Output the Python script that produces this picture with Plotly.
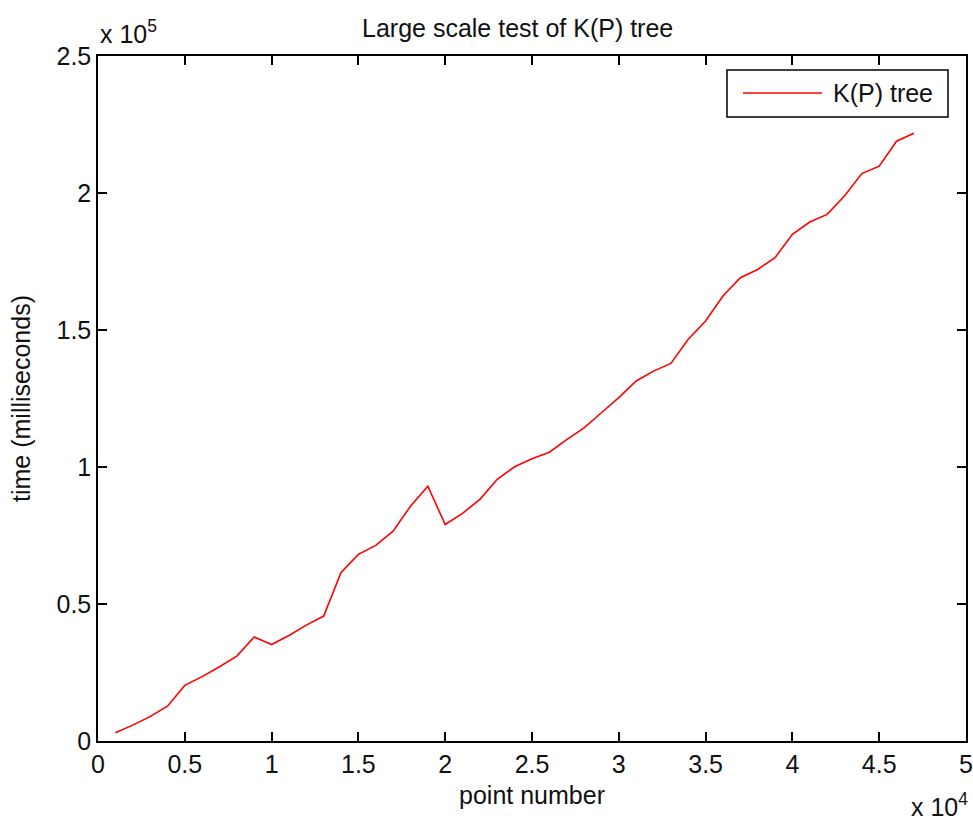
import plotly.graph_objects as go

# Data
point_number = [1000 * k for k in range(1, 48)]
time_ms = [
    3000, 5800, 8900, 12700, 20300, 23500, 27100, 31000, 38000, 35200,
    38500, 42300, 45600, 61500, 68100, 71400, 76600, 85700, 93000, 79000,
    83100, 88200, 95500, 100100, 103000, 105400, 110000, 114300, 119800, 125300,
    131400, 135000, 137800, 146600, 153300, 162400, 169100, 172100, 176400, 184900,
    189400, 192200, 198900, 207100, 209800, 218900, 221800,
]
x_tickvals = [0, 5000, 10000, 15000, 20000, 25000, 30000, 35000, 40000, 45000, 50000]
x_ticktext = ["0", "0.5", "1", "1.5", "2", "2.5", "3", "3.5", "4", "4.5", "5"]
y_tickvals = [0, 50000, 100000, 150000, 200000, 250000]
y_ticktext = ["0", "0.5", "1", "1.5", "2", "2.5"]
title_text = "Large scale test of K(P) tree"
series_name = "K(P) tree"

FONT = "Liberation Sans, Arial, sans-serif"
FS = 25
TXT = "#111111"

fig = go.Figure()
fig.add_trace(go.Scatter(
    x=point_number, y=time_ms, mode="lines", name=series_name,
    line=dict(color="#ff0000", width=1.6), showlegend=False,
))

axis_common = dict(
    showline=True, linecolor="black", linewidth=1.5, mirror="ticks",
    ticks="inside", ticklen=9, tickwidth=1.5, tickcolor="black",
    showgrid=False, zeroline=False,
    tickfont=dict(family=FONT, size=FS, color=TXT),
)

fig.update_layout(
    width=973, height=820,
    margin=dict(l=98, r=7, t=56, b=79, autoexpand=False),
    paper_bgcolor="white", plot_bgcolor="white",
    font=dict(family=FONT, size=FS, color=TXT),
    title=dict(text=title_text, x=0.532, xanchor="center", y=1 - 28 / 820,
               yanchor="middle", font=dict(family=FONT, size=FS, color=TXT)),
    xaxis=dict(range=[0, 50000], tickvals=x_tickvals, ticktext=x_ticktext,
               title=dict(text="point number", standoff=10,
                          font=dict(family=FONT, size=FS, color=TXT)),
               **axis_common),
    yaxis=dict(range=[0, 250000], tickvals=y_tickvals, ticktext=y_ticktext,
               title=dict(text="time (milliseconds)", standoff=19,
                          font=dict(family=FONT, size=FS, color=TXT)),
               **axis_common),
)

# Exponent labels
fig.add_annotation(text="x 10<sup>5</sup>", xref="paper", yref="paper",
                   x=0.0, y=1.0, xanchor="left", yanchor="bottom", yshift=6,
                   showarrow=False, font=dict(family=FONT, size=FS, color=TXT))
fig.add_annotation(text="x 10<sup>4</sup>", xref="paper", yref="paper",
                   x=1.0, y=0.0, xanchor="right", yanchor="top", yshift=-46, xshift=4,
                   showarrow=False, font=dict(family=FONT, size=FS, color=TXT))

# Legend box drawn manually (MATLAB style)
lx0, lx1 = (727 - 98) / 868, (948 - 98) / 868
ly0, ly1 = (741 - 117) / 685, (741 - 70) / 685
ly_mid = (741 - 93) / 685
fig.add_shape(type="rect", xref="paper", yref="paper", x0=lx0, x1=lx1, y0=ly0, y1=ly1,
              line=dict(color="black", width=1.5), fillcolor="white", layer="above")
fig.add_shape(type="line", xref="paper", yref="paper",
              x0=(743 - 98) / 868, x1=(822 - 98) / 868, y0=ly_mid, y1=ly_mid,
              line=dict(color="#ff0000", width=1.6), layer="above")
fig.add_annotation(text=series_name, xref="paper", yref="paper",
                   x=(831 - 98) / 868, y=ly_mid, xanchor="left", yanchor="middle",
                   showarrow=False, font=dict(family=FONT, size=FS, color=TXT))

fig.write_html("out.html", config={"displayModeBar": False},
               post_script="document.body.style.margin='0';document.body.style.overflow='hidden';")
